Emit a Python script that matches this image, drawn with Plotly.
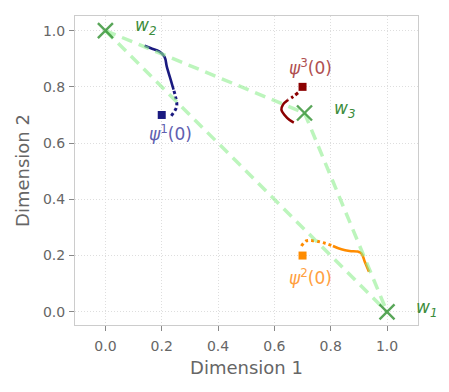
import plotly.graph_objects as go

# Vertices of the simplex
w_x = [1.0, 0.0, 0.707]
w_y = [0.0, 1.0, 0.707]
w_names = ["w<sub>1</sub>", "w<sub>2</sub>", "w<sub>3</sub>"]

# Initial points psi^k(0)
psi_x = [0.2, 0.7, 0.7]
psi_y = [0.7, 0.2, 0.8]
psi_sups = ["1", "2", "3"]

# Trajectory 1 (navy): early dotted part, later solid part
t1_dot_x = [0.234, 0.253, 0.249, 0.242]
t1_dot_y = [0.697, 0.730, 0.765, 0.790]
t1_sol_x = [0.242, 0.234, 0.218, 0.210, 0.192, 0.162, 0.139]
t1_sol_y = [0.790, 0.818, 0.872, 0.907, 0.925, 0.937, 0.946]

# Trajectory 2 (orange)
t2_dot_x = [0.696, 0.713, 0.737, 0.772, 0.808]
t2_dot_y = [0.234, 0.252, 0.253, 0.246, 0.234]
t2_sol_x = [0.808, 0.838, 0.867, 0.897, 0.909, 0.921, 0.936]
t2_sol_y = [0.234, 0.222, 0.216, 0.214, 0.208, 0.178, 0.142]

# Trajectory 3 (dark red)
t3_dot_x = [0.684, 0.666, 0.648]
t3_dot_y = [0.779, 0.765, 0.753]
t3_sol_x = [0.648, 0.630, 0.625, 0.636, 0.654, 0.669]
t3_sol_y = [0.753, 0.736, 0.718, 0.700, 0.682, 0.673]

traj_colors = ["#1a1a80", "#ff8c00", "#8b0000"]
label_colors = ["#6060b0", "#ffa040", "#b05050"]

fig = go.Figure()

trajs = [(t1_dot_x, t1_dot_y, t1_sol_x, t1_sol_y),
         (t2_dot_x, t2_dot_y, t2_sol_x, t2_sol_y),
         (t3_dot_x, t3_dot_y, t3_sol_x, t3_sol_y)]
for (dx, dy, sx, sy), c in zip(trajs, traj_colors):
    fig.add_trace(go.Scatter(x=dx, y=dy, mode="lines", line=dict(color=c, width=3, dash="dot", shape="spline"),
                             showlegend=False, hoverinfo="skip"))
    fig.add_trace(go.Scatter(x=sx, y=sy, mode="lines", line=dict(color=c, width=2.6, shape="spline"),
                             showlegend=False, hoverinfo="skip"))

# starting squares
for i in range(3):
    fig.add_trace(go.Scatter(x=[psi_x[i]], y=[psi_y[i]], mode="markers",
                             marker=dict(symbol="square", size=8, color=traj_colors[i]),
                             showlegend=False, hoverinfo="skip"))

# dashed simplex edges (on top, semi-transparent)
edges = [(1, 2), (2, 0), (1, 0)]
for a, b in edges:
    fig.add_trace(go.Scatter(x=[w_x[a], w_x[b]], y=[w_y[a], w_y[b]], mode="lines",
                             line=dict(color="rgba(144,238,144,0.6)", width=3.5, dash="11px,7px"),
                             showlegend=False, hoverinfo="skip"))

# vertex markers
fig.add_trace(go.Scatter(x=w_x, y=w_y, mode="markers",
                         marker=dict(symbol="x-thin", size=15, line=dict(color="rgba(60,150,60,0.85)", width=2.4)),
                         showlegend=False, hoverinfo="skip"))

# vertex labels
w_offsets = [(0.102, 0.013), (0.106, 0.014), (0.105, 0.011)]
for i in range(3):
    fig.add_annotation(x=w_x[i] + w_offsets[i][0], y=w_y[i] + w_offsets[i][1], text="<i>" + w_names[i] + "</i>",
                       showarrow=False, xanchor="left", yanchor="middle", xshift=-2,
                       font=dict(family="DejaVu Sans", size=17, color="#3c8c3c"))

# psi labels
psi_offsets = [(0.031, -0.064), (0.029, -0.076), (0.029, 0.071)]
for i in range(3):
    fig.add_annotation(x=psi_x[i] + psi_offsets[i][0], y=psi_y[i] + psi_offsets[i][1],
                       text="<i>ψ</i><sup>" + psi_sups[i] + "</sup>(0)", showarrow=False,
                       xanchor="center", yanchor="middle",
                       font=dict(family="DejaVu Sans", size=17, color=label_colors[i]))

axis_common = dict(
    showgrid=True, gridcolor="#dedede", griddash="1px,2px", gridwidth=1,
    zeroline=False, showline=True, mirror=True, linecolor="#cccccc", linewidth=1,
    ticks="outside", ticklen=5, tickcolor="#888888",
    tickfont=dict(family="DejaVu Sans", size=14, color="#666666"),
    tickvals=[0, 0.2, 0.4, 0.6, 0.8, 1.0], tickformat=".1f",
)

# page body adds 8px offset; compensate via size and margins
fig.update_layout(
    width=441, height=384,
    margin=dict(l=67, r=31, t=8, b=67, autoexpand=False),
    plot_bgcolor="white", paper_bgcolor="white",
    xaxis=dict(range=[-0.108, 1.11], ticklabelstandoff=3,
               title=dict(text="Dimension 1", font=dict(family="DejaVu Sans", size=18, color="#666666"), standoff=8), **axis_common),
    yaxis=dict(range=[-0.047, 1.052], ticklabelstandoff=1,
               title=dict(text="Dimension 2", font=dict(family="DejaVu Sans", size=18, color="#666666"), standoff=8), **axis_common),
)

fig.write_html("out.html")
